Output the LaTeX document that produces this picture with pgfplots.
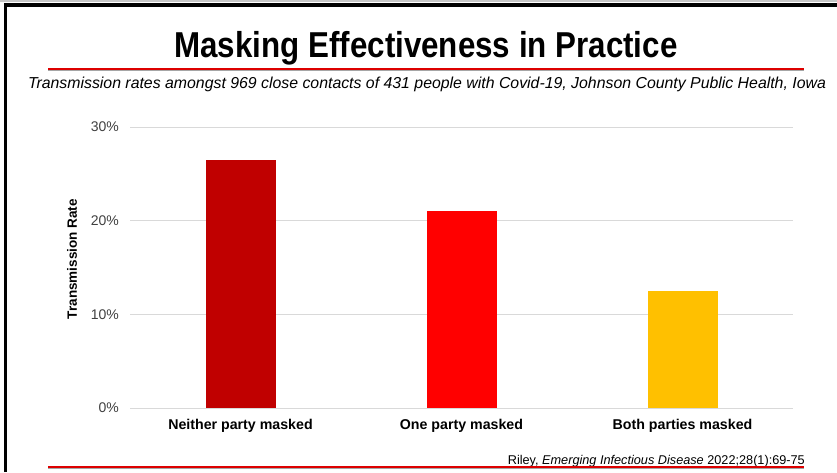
\documentclass[border=0pt]{standalone}
\usepackage{fontspec}
\setmainfont{Liberation Sans}
\newfontfamily\titlefont[FakeStretch=0.87]{Liberation Sans}
\usepackage{pgfplots}
\pgfplotsset{compat=1.18}
\definecolor{darkred}{HTML}{C00000}
\definecolor{brightred}{HTML}{FF0000}
\definecolor{amber}{HTML}{FFC000}
\definecolor{gridgray}{HTML}{D9D9D9}
\definecolor{rulered}{HTML}{DD0000}
\definecolor{ticktext}{HTML}{404040}

\begin{document}
\begin{tikzpicture}[x=1pt,y=1pt]
\path[use as bounding box] (0,0) rectangle (837,472);
% slide frame
\fill[gray!45] (0,469.5) rectangle (837,472);
\draw[black, line width=3.4pt] (4,467) -- (837,467);
\draw[black, line width=3pt] (5.5,0) -- (5.5,468.7);

\begin{axis}[
  at={(130pt,64pt)}, anchor=south west,
  width=663pt, height=281pt, scale only axis,
  xmin=-0.5, xmax=2.5, ymin=0, ymax=30,
  xtick={0,1,2},
  xticklabels={Neither party masked, One party masked, Both parties masked},
  ytick={0,10,20,30},
  yticklabel={\pgfmathprintnumber{\tick}\%},
  /pgf/number format/assume math mode=true,
  axis line style={draw=none},
  major tick length=0pt,
  ymajorgrids, grid style={gridgray, line width=1pt},
  x tick label style={font=\fontsize{14.2}{16}\selectfont\bfseries, inner sep=0pt, yshift=-11pt, text=black},
  y tick label style={font=\fontsize{14}{16}\selectfont, text=ticktext, inner sep=0pt, xshift=-11pt},
  ylabel={Transmission Rate},
  ylabel style={at={(axis description cs:-0.0875,0.53)}, anchor=center, font=\fontsize{13.5}{15}\selectfont\bfseries},
  ybar, bar width=70pt,
]
\addplot[ybar, bar shift=0pt, fill=darkred, draw=none] coordinates {(0,26.5)};
\addplot[ybar, bar shift=0pt, fill=brightred, draw=none] coordinates {(1,21.0)};
\addplot[ybar, bar shift=0pt, fill=amber, draw=none] coordinates {(2,12.5)};
\end{axis}

% title and rules
\node[anchor=base, inner sep=0pt] at (426,414.7)
  {\titlefont\bfseries\fontsize{36}{40}\selectfont Masking Effectiveness in Practice};
\draw[black!35, line width=1pt] (48,401.6) -- (804,401.6);
\draw[rulered, line width=1.8pt] (48,403) -- (804,403);
\node[anchor=base, inner sep=0pt] at (427,383.7)
  {\itshape\fontsize{15.85}{17}\selectfont Transmission rates amongst 969 close contacts of 431 people with Covid-19, Johnson County Public Health, Iowa};

\node[anchor=base east, inner sep=0pt] at (805,8)
  {\fontsize{12.7}{14}\selectfont Riley, \textit{Emerging Infectious Disease} 2022;28(1):69-75};
\draw[black!35, line width=1pt] (48,3.6) -- (804,3.6);
\draw[rulered, line width=1.8pt] (48,5.2) -- (804,5.2);
\end{tikzpicture}
\end{document}
